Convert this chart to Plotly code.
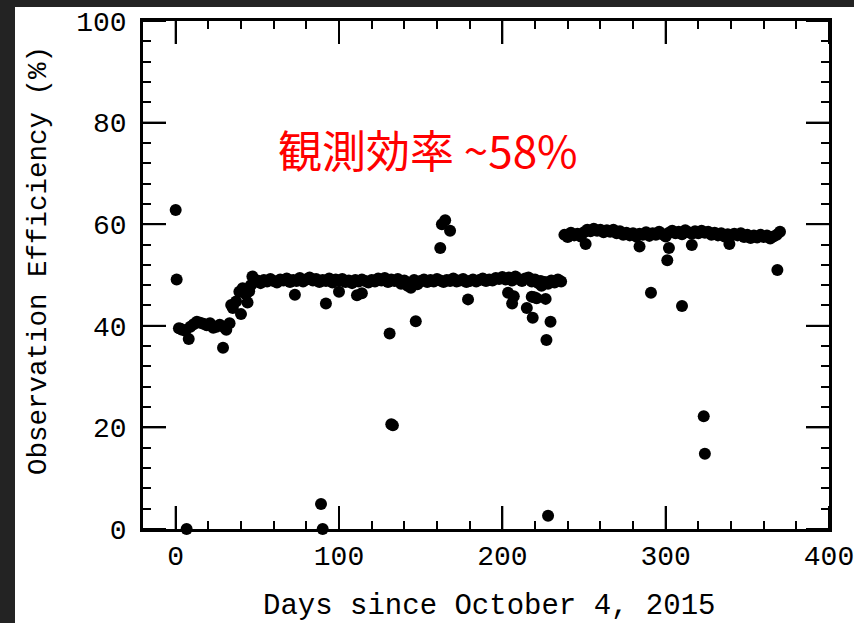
import plotly.graph_objects as go

# Daily observation efficiency (%) vs. days since October 4, 2015
early_days = [0, 0.6, 2, 3, 4, 6, 8, 9, 11, 13, 15, 17, 19, 21, 23, 25, 27, 29, 30, 31, 33]
early_vals = [62.8, 49.1, 39.5, 39.4, 39.2, 39.0, 37.4, 39.8, 40.3, 40.8, 40.6, 40.4, 40.1,
              40.5, 39.6, 39.8, 40.2, 35.7, 39.6, 39.2, 40.5]

ramp_days = [34, 35, 37, 39, 40, 41, 43, 44, 45, 46, 47]
ramp_vals = [44.1, 43.5, 44.8, 46.7, 42.3, 47.4, 46.2, 44.6, 46.8, 48.0, 49.7]

plateau1_days = [48, 50, 52, 54, 56, 58, 60, 62, 64, 66, 68, 70, 72, 74, 76, 78, 80, 82, 84, 86,
                 88, 90, 92, 94, 96, 98, 100, 102, 104, 106, 108, 110, 112, 114, 116, 118, 120,
                 122, 124, 126, 128, 130, 132, 134, 136, 138, 140, 142, 144, 146, 148, 150, 152,
                 154, 156, 158, 160, 162, 164, 166, 168, 170, 172, 174, 176, 178, 180, 182, 184,
                 186, 188, 190, 192, 194, 196, 198, 200, 202, 204, 206, 208, 210, 212, 214, 216,
                 218, 220, 222, 224, 226, 228, 230, 232, 234, 236]
plateau1_vals = [48.6, 48.9, 48.4, 49.0, 48.7, 49.2, 48.8, 48.5, 49.1, 48.9, 49.3, 48.6, 49.0,
                 48.8, 49.4, 48.7, 49.1, 49.5, 48.9, 49.2, 48.6, 49.0, 48.8, 49.3, 48.5, 49.1,
                 48.9, 49.2, 48.6, 48.9, 48.4, 49.0, 48.7, 49.1, 48.8, 48.5, 49.0, 48.7, 49.3,
                 48.9, 49.4, 48.6, 49.1, 48.8, 49.2, 48.3, 48.9, 47.9, 48.4, 49.0, 48.2, 48.8,
                 49.1, 48.6, 49.0, 48.7, 49.2, 48.9, 48.6, 49.0, 48.8, 49.3, 48.7, 48.9, 49.2,
                 48.6, 48.8, 49.1, 48.7, 49.0, 49.3, 48.8, 49.1, 48.9, 49.4, 49.2, 49.6, 49.1,
                 49.5, 48.9, 49.7, 49.2, 48.8, 49.3, 49.5, 48.7, 49.1, 48.4, 47.9, 48.6, 48.3,
                 48.9, 48.5, 49.1, 48.7]

plateau2_days = [238, 240, 242, 244, 246, 248, 250, 252, 254, 256, 258, 260, 262, 264, 266, 268,
                 270, 272, 274, 276, 278, 280, 282, 284, 286, 288, 290, 292, 294, 296, 298, 300,
                 302, 304, 306, 308, 310, 312, 314, 316, 318, 320, 322, 324, 326, 328, 330, 332,
                 334, 336, 338, 340, 342, 344, 346, 348, 350, 352, 354, 356, 358, 360, 362, 364,
                 366, 368, 370]
plateau2_vals = [57.9, 57.5, 58.3, 57.8, 58.1, 57.6, 58.4, 58.9, 58.6, 59.1, 58.7, 58.9, 58.4,
                 58.8, 58.5, 58.9, 58.2, 58.6, 57.9, 58.3, 57.8, 58.2, 57.6, 58.1, 57.9, 58.4,
                 57.7, 58.2, 57.9, 58.5, 58.0, 57.6, 58.3, 58.7, 58.2, 58.5, 58.0, 58.8, 58.4,
                 58.1, 58.6, 58.2, 58.7, 58.3, 58.5, 57.9, 58.3, 57.8, 58.2, 57.6, 58.0, 57.7,
                 58.1, 57.8, 58.2, 57.5, 57.9, 57.3, 57.8, 57.4, 57.9, 57.5, 57.8, 57.2, 57.6,
                 57.9, 58.5]

# Days that fell well off the typical level
outlier_days = [6.7, 73, 89, 90, 92, 100, 111, 114, 131, 132, 133, 144, 147, 162, 163, 165, 168,
                179, 203.5, 206, 207, 215, 218, 218.6, 219.5, 221, 223.5, 226.5, 227, 228, 229.5,
                251, 284, 291, 301, 302, 310, 316, 323.3, 324, 339, 368.4]
outlier_vals = [0.0, 46.1, 4.9, 0.0, 44.4, 46.7, 46.0, 46.4, 38.5, 20.6, 20.4, 47.5, 40.9, 55.3,
                60.0, 60.8, 58.7, 45.2, 46.5, 44.4, 45.8, 43.5, 45.7, 41.6, 45.6, 45.4, 48.8,
                45.3, 37.2, 2.6, 40.8, 56.1, 55.6, 46.5, 52.9, 55.3, 43.9, 55.9, 22.2, 14.8,
                56.1, 51.0]

x_ticks = [0, 100, 200, 300, 400]
y_ticks = [0, 20, 40, 60, 80, 100]

days = early_days + ramp_days + plateau1_days + plateau2_days + outlier_days
vals = early_vals + ramp_vals + plateau1_vals + plateau2_vals + outlier_vals

x_range = [-20, 400]
y_range = [0, 100]

W, H = 854, 623
L, R, T, B = 143, 25, 21, 94
pw, ph = W - L - R, H - T - B
MAJOR_LEN = 23  # px


def px_x(p):
    return (p - L) / pw


def px_y(p):
    return (H - B - p) / ph


tick_font = dict(family="Liberation Mono", size=28, color="black")

fig = go.Figure()
fig.add_trace(go.Scatter(
    x=days, y=vals, mode="markers",
    marker=dict(size=12, color="black", line=dict(width=0)),
    cliponaxis=False, showlegend=False, hoverinfo="x+y",
))

common = dict(
    showgrid=False, zeroline=False, showline=True, linecolor="black", linewidth=2.5,
    mirror="allticks", ticks="inside", ticklen=MAJOR_LEN, tickwidth=2, tickcolor="black",
    tickfont=tick_font, ticklabeloverflow="allow",
)
fig.update_xaxes(range=x_range, tickvals=x_ticks, ticklabelstandoff=0,
                 minor=dict(dtick=20, tick0=0, ticks="inside", ticklen=8, tickwidth=2,
                            tickcolor="black", showgrid=False),
                 **common)
fig.update_yaxes(range=y_range, tickvals=y_ticks, ticklabelstandoff=8,
                 minor=dict(dtick=4, tick0=0, ticks="inside", ticklen=8, tickwidth=2,
                            tickcolor="black", showgrid=False),
                 **common)

# long major tick marks on all four sides of the frame
tick_line = dict(color="black", width=2)
fx, fy = MAJOR_LEN / pw, MAJOR_LEN / ph
for v in x_ticks:
    fig.add_shape(type="line", xref="x", yref="paper", x0=v, x1=v, y0=0, y1=fy, line=tick_line)
    fig.add_shape(type="line", xref="x", yref="paper", x0=v, x1=v, y0=1, y1=1 - fy,
                  line=tick_line)
for v in y_ticks:
    fig.add_shape(type="line", xref="paper", yref="y", x0=0, x1=fx, y0=v, y1=v, line=tick_line)
    fig.add_shape(type="line", xref="paper", yref="y", x0=1, x1=1 - fx, y0=v, y1=v,
                  line=tick_line)

# white sheet on a dark frame
fig.add_shape(type="rect", xref="paper", yref="paper",
              x0=px_x(15), x1=px_x(W + 5), y0=px_y(H + 5), y1=px_y(7),
              fillcolor="white", line=dict(width=0), layer="below")

fig.add_annotation(text="Days since October 4, 2015", xref="paper", yref="paper",
                   x=px_x(489), y=px_y(606), showarrow=False,
                   font=dict(family="Liberation Mono", size=29, color="black"),
                   xanchor="center", yanchor="middle")
fig.add_annotation(text="Observation Efficiency (%)", xref="paper", yref="paper",
                   x=px_x(38), y=px_y(261), showarrow=False,
                   font=dict(family="Liberation Mono", size=27.5, color="black"), textangle=-90,
                   xanchor="center", yanchor="middle")
fig.add_annotation(text="観測効率 ~58%", xref="paper", yref="paper",
                   x=px_x(428), y=px_y(149), showarrow=False,
                   font=dict(family="Noto Sans CJK JP", size=44, color="#ff0000"),
                   xanchor="center", yanchor="middle")

fig.update_layout(
    width=W, height=H, margin=dict(l=L, r=R, t=T, b=B, autoexpand=False),
    paper_bgcolor="#232323", plot_bgcolor="white",
)

fig.write_html("out.html")
